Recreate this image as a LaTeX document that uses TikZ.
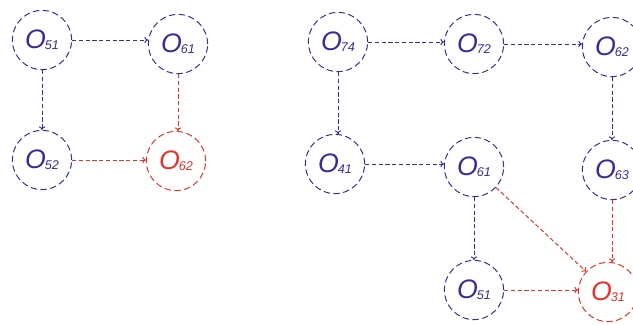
\documentclass[tikz,border=0pt]{standalone}
\usepackage{fontspec}
\newfontfamily\objfont{Liberation Sans}
\usetikzlibrary{arrows.meta}
\definecolor{objblue}{RGB}{58,44,150}
\definecolor{objred}{RGB}{230,50,40}

\begin{document}
\begin{tikzpicture}[x=0.025cm, y=-0.025cm]
  \newcommand\obj[1]{{\objfont\itshape\fontsize{19}{19}\selectfont O\kern-0.8pt\raisebox{-0.8pt}{\fontsize{9}{9}\selectfont #1}}}

  \tikzset{dashline/.style={line width=0.7pt, dash pattern=on 3pt off 1.8pt}}
  \tikzset{objnode/.style={line width=0.7pt, dash pattern=on 4.5pt off 2.5pt, circle, draw, minimum size=1.48cm, inner sep=0pt}}
  \tikzset{bobj/.style={objnode, objblue}}
  \tikzset{robj/.style={objnode, objred}}
  \tikzset{ptr/.style={dashline, -{To[length=2.5pt, width=4.5pt]}}}
  \tikzset{bptr/.style={ptr, objblue}}
  \tikzset{rptr/.style={ptr, objred}}

  \useasboundingbox (0,0) rectangle (633,324);

  % first graph
  \node[bobj] at (42, 40) (l51) {\obj{51}};
  \node[bobj] at (178, 44) (l61) {\obj{61}};
  \node[bobj] at (42, 160) (l52) {\obj{52}};
  \node[robj] at (176, 161) (l62) {\obj{62}};

  \draw[bptr] (l51.east) -- (l51.east -| l61.west);
  \draw[bptr] (l51.south) -- (l51.south |- l52.north);
  \draw[rptr] (l61.south) -- (l61.south |- l62.north);
  \draw[rptr] (l52.east) -- (l52.east -| l62.west);

  % second graph
  \node[bobj] at (338, 42) (r74) {\obj{74}};
  \node[bobj] at (474, 44) (r72) {\obj{72}};
  \node[bobj] at (612, 47) (r62) {\obj{62}};
  \node[bobj] at (335, 164) (r41) {\obj{41}};
  \node[bobj] at (474, 167) (r61) {\obj{61}};
  \node[bobj] at (612, 170) (r63) {\obj{63}};
  \node[bobj] at (474, 290) (r51) {\obj{51}};
  \node[robj] at (608, 292) (r31) {\obj{31}};

  \draw[bptr] (r74.east) -- (r74.east -| r72.west);
  \draw[bptr] (r72.east) -- (r72.east -| r62.west);
  \draw[bptr] (r74.south) -- (r74.south |- r41.north);
  \draw[bptr] (r62.south) -- (r62.south |- r63.north);
  \draw[bptr] (r41.east) -- (r41.east -| r61.west);
  \draw[bptr] (r61.south) -- (r61.south |- r51.north);
  \draw[rptr] (r61) -- (r31);
  \draw[rptr] (r63.south) -- (r63.south |- r31.north);
  \draw[rptr] (r51.east) -- (r51.east -| r31.west);
\end{tikzpicture}
\end{document}
